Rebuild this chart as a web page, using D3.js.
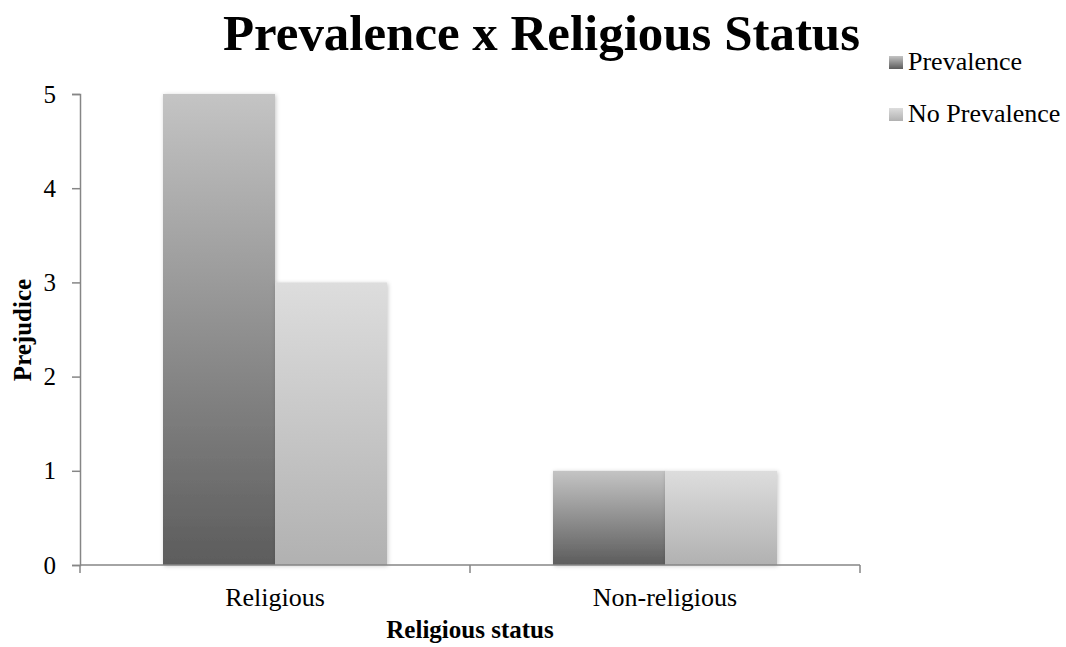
<!DOCTYPE html>
<html>
<head>
<meta charset="utf-8">
<script src="https://cdn.jsdelivr.net/npm/d3@7"></script>
<style>
  html, body { margin: 0; padding: 0; background: #fff; }
  svg { display: block; }
</style>
</head>
<body>
<svg id="chart" width="1066" height="647"></svg>
<script>
const categories = ["Religious", "Non-religious"];
const seriesNames = ["Prevalence", "No Prevalence"];
const prevalenceValues = [5, 1];
const noPrevalenceValues = [3, 1];
const yTicks = [0, 1, 2, 3, 4, 5];
const titleText = "Prevalence x Religious Status";
const xTitle = "Religious status";
const yTitle = "Prejudice";

const svg = d3.select("#chart");
const serif = "'Liberation Serif', 'Times New Roman', serif";
const axisColor = "#868686";

const plot = { left: 80, right: 860, top: 94, bottom: 565 };

const x = d3.scaleBand().domain(categories).range([plot.left, plot.right]).paddingInner(0).paddingOuter(0);
const y = d3.scaleLinear().domain([0, 5]).range([plot.bottom, plot.top]);

const defs = svg.append("defs");
const gradStops = {
  "Prevalence": ["#c4c4c4", "#5c5c5c"],
  "No Prevalence": ["#dddddd", "#b1b1b1"]
};
seriesNames.forEach((s, i) => {
  const g = defs.append("linearGradient").attr("id", "grad" + i)
    .attr("x1", 0).attr("y1", 0).attr("x2", 0).attr("y2", 1);
  g.append("stop").attr("offset", "0%").attr("stop-color", gradStops[s][0]);
  g.append("stop").attr("offset", "100%").attr("stop-color", gradStops[s][1]);
});
const f = defs.append("filter").attr("id", "shadow").attr("x", "-20%").attr("y", "-20%").attr("width", "140%").attr("height", "140%");
f.append("feDropShadow").attr("dx", 1).attr("dy", 1).attr("stdDeviation", 2.2).attr("flood-color", "#000").attr("flood-opacity", 0.22);

// Title
svg.append("text")
  .attr("x", 223).attr("y", 50)
  .attr("font-family", serif)
  .attr("font-weight", "bold").attr("font-size", 50)
  .attr("textLength", 637).attr("lengthAdjust", "spacingAndGlyphs")
  .attr("fill", "#000")
  .text(titleText);

// Bars
const data = categories.map((c, i) => ({ cat: c, vals: [prevalenceValues[i], noPrevalenceValues[i]] }));
const barW = 112;
const groups = svg.append("g").selectAll("g").data(data).join("g");
groups.selectAll("rect").data(d => d.vals.map((v, j) => ({ cat: d.cat, v, j })))
  .join("rect")
  .attr("x", d => x(d.cat) + x.bandwidth() / 2 - barW + d.j * barW)
  .attr("width", barW)
  .attr("y", d => y(d.v))
  .attr("height", d => y(0) - y(d.v))
  .attr("fill", d => `url(#grad${d.j})`)
  .attr("filter", "url(#shadow)");

// Y axis
const yAxis = d3.axisLeft(y).tickValues(yTicks).tickFormat(d3.format("d")).tickSize(8).tickPadding(16);
const yg = svg.append("g").attr("transform", `translate(${plot.left},0)`).call(yAxis);
yg.attr("font-family", serif);
yg.select(".domain").attr("stroke", axisColor).attr("stroke-width", 1.5);
yg.selectAll(".tick line").attr("stroke", axisColor).attr("stroke-width", 1.5);
yg.selectAll(".tick text").attr("font-family", serif).attr("font-size", 25).attr("fill", "#000");

// X axis
const xAxis = d3.axisBottom(x).tickSize(0).tickFormat(() => "");
const xg = svg.append("g").attr("transform", `translate(0,${plot.bottom})`).call(xAxis);
xg.attr("font-family", serif);
xg.select(".domain").attr("stroke", axisColor).attr("stroke-width", 1.5).attr("d", `M${plot.left},0H${plot.right}`);
const boundaries = [plot.left, ...categories.slice(1).map(c => x(c)), plot.right];
xg.selectAll(".bnd").data(boundaries).join("line").attr("class", "bnd")
  .attr("x1", d => d).attr("x2", d => d).attr("y1", 0).attr("y2", 8)
  .attr("stroke", axisColor).attr("stroke-width", 1.5);
xg.selectAll(".cat").data(categories).join("text").attr("class", "cat")
  .attr("x", d => x(d) + x.bandwidth() / 2).attr("y", 41)
  .attr("text-anchor", "middle")
  .attr("font-family", serif).attr("font-size", 26).attr("fill", "#000")
  .text(d => d);

// Axis titles
svg.append("text")
  .attr("x", (plot.left + plot.right) / 2).attr("y", 638)
  .attr("text-anchor", "middle")
  .attr("font-family", serif).attr("font-weight", "bold").attr("font-size", 25)
  .text(xTitle);
svg.append("text")
  .attr("transform", "translate(31,330) rotate(-90)")
  .attr("text-anchor", "middle")
  .attr("font-family", serif).attr("font-weight", "bold").attr("font-size", 25)
  .text(yTitle);

// Legend
const legend = svg.append("g");
const li = legend.selectAll("g").data(seriesNames).join("g")
  .attr("transform", (d, i) => `translate(889,${56 + i * 52})`);
li.append("rect").attr("width", 14).attr("height", 13).attr("fill", (d, i) => `url(#grad${i})`);
li.append("text").attr("x", 19).attr("y", 14)
  .attr("font-family", serif).attr("font-size", 26).attr("fill", "#000")
  .text(d => d);
</script>
</body>
</html>
